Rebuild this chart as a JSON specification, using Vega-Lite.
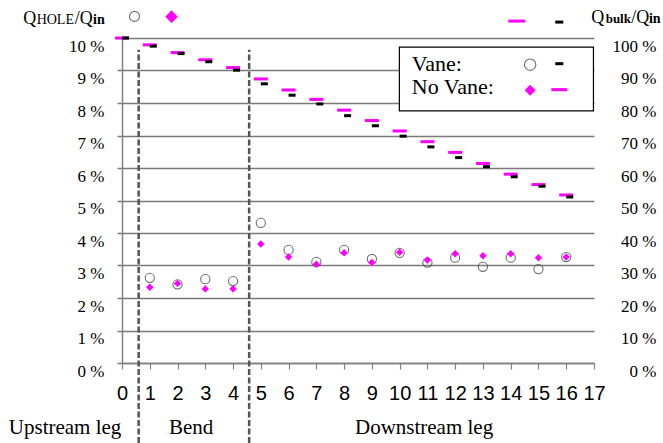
{
  "$schema": "https://vega.github.io/schema/vega-lite/v6.json",
  "width": 472,
  "height": 325,
  "autosize": "none",
  "padding": {"left": 122, "top": 38, "right": 69, "bottom": 80},
  "background": "white",
  "config": {
    "view": {"stroke": null},
    "font": "Liberation Serif, DejaVu Serif, serif",
    "text": {"font": "Liberation Serif, DejaVu Serif, serif"},
    "axis": {"labelColor": "black", "labelFont": "Liberation Serif, DejaVu Serif, serif", "labelFontSize": 17, "labelFlush": false, "labelOverlap": false},
    "axisX": {"grid": false, "tickCount": 17, "domainColor": "#808080", "domainWidth": 1.5, "tickColor": "#808080", "tickWidth": 1.2, "tickSize": 6,
      "labelFont": "Liberation Sans Narrow, Arial Narrow, Liberation Sans, sans-serif", "labelFontSize": 20, "labelPadding": 14},
    "axisY": {"tickCount": 10}
  },
  "datasets": {
    "hole": [
      {"pos": 1, "vane": 2.62, "novane": 2.33},
      {"pos": 2, "vane": 2.42, "novane": 2.45},
      {"pos": 3, "vane": 2.58, "novane": 2.28},
      {"pos": 4, "vane": 2.52, "novane": 2.28},
      {"pos": 5, "vane": 4.31, "novane": 3.66},
      {"pos": 6, "vane": 3.48, "novane": 3.26},
      {"pos": 7, "vane": 3.11, "novane": 3.04},
      {"pos": 8, "vane": 3.48, "novane": 3.39},
      {"pos": 9, "vane": 3.20, "novane": 3.09},
      {"pos": 10, "vane": 3.39, "novane": 3.41},
      {"pos": 11, "vane": 3.09, "novane": 3.17},
      {"pos": 12, "vane": 3.24, "novane": 3.36},
      {"pos": 13, "vane": 2.96, "novane": 3.30},
      {"pos": 14, "vane": 3.24, "novane": 3.36},
      {"pos": 15, "vane": 2.89, "novane": 3.24},
      {"pos": 16, "vane": 3.26, "novane": 3.26}
    ],
    "bulk": [
      {"pos": 0, "vane": 100, "novane": 100},
      {"pos": 1, "vane": 97.5, "novane": 97.9},
      {"pos": 2, "vane": 95.2, "novane": 95.5},
      {"pos": 3, "vane": 92.7, "novane": 93.3},
      {"pos": 4, "vane": 90.1, "novane": 90.9},
      {"pos": 5, "vane": 85.9, "novane": 87.4},
      {"pos": 6, "vane": 82.4, "novane": 84.0},
      {"pos": 7, "vane": 79.7, "novane": 81.1},
      {"pos": 8, "vane": 76.1, "novane": 77.8},
      {"pos": 9, "vane": 73.0, "novane": 74.6},
      {"pos": 10, "vane": 69.8, "novane": 71.4},
      {"pos": 11, "vane": 66.5, "novane": 68.1},
      {"pos": 12, "vane": 63.2, "novane": 64.8},
      {"pos": 13, "vane": 60.4, "novane": 61.4},
      {"pos": 14, "vane": 57.3, "novane": 58.1},
      {"pos": 15, "vane": 54.4, "novane": 54.9},
      {"pos": 16, "vane": 51.1, "novane": 51.7}
    ],
    "sections": [
      {"edge": 0.6},
      {"edge": 4.58}
    ]
  },
  "data": {"values": [{}]},
  "resolve": {"scale": {"y": "independent"}},
  "layer": [
    {
      "layer": [
        {
          "data": {"name": "hole"},
          "mark": {"type": "point", "shape": "circle", "filled": false, "stroke": "#333333", "strokeWidth": 1.1, "size": 85},
          "encoding": {
            "x": {"field": "pos", "type": "quantitative", "title": null,
              "scale": {"domain": [0, 17], "nice": false, "zero": false},
              "axis": {"format": "d"}},
            "y": {"field": "vane", "type": "quantitative", "title": null,
              "scale": {"domain": [0, 10], "nice": false},
              "axis": {"labelExpr": "datum.value + ' %'",
                "grid": true, "gridColor": "#7a7a7a", "gridWidth": 1.5,
                "domainColor": "#808080", "domainWidth": 1.5, "tickColor": "#7a7a7a", "tickWidth": 1.5, "tickSize": 5,
                "labelPadding": 13, "labelOffset": 8}}
          }
        },
        {
          "data": {"name": "hole"},
          "mark": {"type": "point", "shape": "diamond", "filled": true, "color": "#ff00ff", "opacity": 1, "size": 55},
          "encoding": {
            "x": {"field": "pos", "type": "quantitative", "title": null},
            "y": {"field": "novane", "type": "quantitative", "title": null}
          }
        },
        {
          "data": {"name": "sections"},
          "mark": {"type": "rule", "color": "#555555", "strokeWidth": 2.5, "strokeDash": [6, 2.5]},
          "encoding": {
            "x": {"field": "edge", "type": "quantitative", "title": null},
            "y": {"datum": -2.46, "title": null},
            "y2": {"datum": 9.64}
          }
        },
        {
          "mark": {"type": "rect", "fill": "white", "stroke": "black", "strokeWidth": 1.2},
          "encoding": {
            "x": {"datum": 9.99, "title": null}, "x2": {"datum": 16.98},
            "y": {"datum": 9.72, "title": null}, "y2": {"datum": 7.76}
          }
        },
        {
          "mark": {"type": "text", "text": "Vane:", "font": "Liberation Serif, DejaVu Serif, serif", "fontSize": 22, "align": "left", "baseline": "alphabetic"},
          "encoding": {"x": {"datum": 10.44, "title": null}, "y": {"datum": 9.0, "title": null}}
        },
        {
          "mark": {"type": "text", "text": "No Vane:", "font": "Liberation Serif, DejaVu Serif, serif", "fontSize": 22, "align": "left", "baseline": "alphabetic"},
          "encoding": {"x": {"datum": 10.44, "title": null}, "y": {"datum": 8.285, "title": null}}
        },
        {
          "mark": {"type": "point", "shape": "circle", "filled": false, "stroke": "#333333", "strokeWidth": 1.1, "size": 130},
          "encoding": {"x": {"datum": 14.7, "title": null}, "y": {"datum": 9.18, "title": null}}
        },
        {
          "mark": {"type": "point", "shape": "diamond", "filled": true, "color": "#ff00ff", "opacity": 1, "size": 120},
          "encoding": {"x": {"datum": 14.7, "title": null}, "y": {"datum": 8.39, "title": null}}
        },
        {
          "mark": {"type": "tick", "orient": "horizontal", "color": "#ff00ff", "size": 16, "thickness": 3, "opacity": 1},
          "encoding": {"x": {"datum": 15.75, "title": null}, "y": {"datum": 8.41, "title": null}}
        },
        {
          "mark": {"type": "tick", "orient": "horizontal", "color": "black", "size": 8, "thickness": 3, "opacity": 1},
          "encoding": {"x": {"datum": 15.75, "title": null}, "y": {"datum": 9.21, "title": null}}
        },
        {
          "mark": {"type": "text", "text": "Q", "font": "Liberation Serif, DejaVu Serif, serif", "fontSize": 18, "align": "left", "baseline": "alphabetic"},
          "encoding": {"x": {"datum": -3.557, "title": null}, "y": {"datum": 10.44, "title": null}}
        },
        {
          "mark": {"type": "text", "text": "HOLE", "font": "Liberation Serif, DejaVu Serif, serif", "fontSize": 14, "align": "left", "baseline": "alphabetic"},
          "encoding": {"x": {"datum": -3.074, "title": null}, "y": {"datum": 10.43, "title": null}}
        },
        {
          "mark": {"type": "text", "text": "/Q", "font": "Liberation Serif, DejaVu Serif, serif", "fontSize": 18, "align": "left", "baseline": "alphabetic"},
          "encoding": {"x": {"datum": -1.70, "title": null}, "y": {"datum": 10.44, "title": null}}
        },
        {
          "mark": {"type": "text", "text": "in", "font": "Liberation Serif, DejaVu Serif, serif", "fontSize": 14, "fontWeight": "bold", "align": "left", "baseline": "alphabetic"},
          "encoding": {"x": {"datum": -1.045, "title": null}, "y": {"datum": 10.43, "title": null}}
        },
        {
          "mark": {"type": "point", "shape": "circle", "filled": false, "stroke": "#333333", "strokeWidth": 1.1, "size": 100},
          "encoding": {"x": {"datum": 0.45, "title": null}, "y": {"datum": 10.665, "title": null}}
        },
        {
          "mark": {"type": "point", "shape": "diamond", "filled": true, "color": "#ff00ff", "opacity": 1, "size": 160},
          "encoding": {"x": {"datum": 1.784, "title": null}, "y": {"datum": 10.656, "title": null}}
        },
        {
          "mark": {"type": "tick", "orient": "horizontal", "color": "#ff00ff", "size": 17, "thickness": 3, "opacity": 1},
          "encoding": {"x": {"datum": 14.22, "title": null}, "y": {"datum": 10.52, "title": null}}
        },
        {
          "mark": {"type": "tick", "orient": "horizontal", "color": "black", "size": 8, "thickness": 3, "opacity": 1},
          "encoding": {"x": {"datum": 15.75, "title": null}, "y": {"datum": 10.49, "title": null}}
        },
        {
          "mark": {"type": "text", "text": "Q", "font": "Liberation Serif, DejaVu Serif, serif", "fontSize": 18, "align": "left", "baseline": "alphabetic"},
          "encoding": {"x": {"datum": 16.9, "title": null}, "y": {"datum": 10.47, "title": null}}
        },
        {
          "mark": {"type": "text", "text": "bulk", "font": "Liberation Serif, DejaVu Serif, serif", "fontSize": 13, "fontWeight": "bold", "align": "left", "baseline": "alphabetic"},
          "encoding": {"x": {"datum": 17.42, "title": null}, "y": {"datum": 10.45, "title": null}}
        },
        {
          "mark": {"type": "text", "text": "/Q", "font": "Liberation Serif, DejaVu Serif, serif", "fontSize": 18, "align": "left", "baseline": "alphabetic"},
          "encoding": {"x": {"datum": 18.34, "title": null}, "y": {"datum": 10.47, "title": null}}
        },
        {
          "mark": {"type": "text", "text": "in", "font": "Liberation Serif, DejaVu Serif, serif", "fontSize": 14, "fontWeight": "bold", "align": "left", "baseline": "alphabetic"},
          "encoding": {"x": {"datum": 18.98, "title": null}, "y": {"datum": 10.45, "title": null}}
        },
        {
          "mark": {"type": "text", "text": "Upstream leg", "font": "Liberation Serif, DejaVu Serif, serif", "fontSize": 21, "align": "center", "baseline": "middle"},
          "encoding": {"x": {"datum": -2.05, "title": null}, "y": {"datum": -2.0, "title": null}}
        },
        {
          "mark": {"type": "text", "text": "Bend", "font": "Liberation Serif, DejaVu Serif, serif", "fontSize": 21, "align": "center", "baseline": "middle"},
          "encoding": {"x": {"datum": 2.49, "title": null}, "y": {"datum": -2.0, "title": null}}
        },
        {
          "mark": {"type": "text", "text": "Downstream leg", "font": "Liberation Serif, DejaVu Serif, serif", "fontSize": 21, "align": "center", "baseline": "middle"},
          "encoding": {"x": {"datum": 10.88, "title": null}, "y": {"datum": -2.0, "title": null}}
        }
      ]
    },
    {
      "layer": [
        {
          "data": {"name": "bulk"},
          "mark": {"type": "tick", "orient": "horizontal", "color": "#ff00ff", "size": 14, "thickness": 3, "opacity": 1},
          "encoding": {
            "x": {"field": "pos", "type": "quantitative", "title": null},
            "y": {"field": "novane", "type": "quantitative", "title": null,
              "scale": {"domain": [0, 100], "nice": false},
              "axis": {"orient": "right", "labelExpr": "datum.value + ' %'",
                "grid": false, "domain": false, "ticks": false, "labelAlign": "right", "labelPadding": 62, "labelOffset": 8}}
          }
        },
        {
          "data": {"name": "bulk"},
          "mark": {"type": "tick", "orient": "horizontal", "color": "black", "size": 7, "thickness": 3, "opacity": 1, "xOffset": 3.5},
          "encoding": {
            "x": {"field": "pos", "type": "quantitative", "title": null},
            "y": {"field": "vane", "type": "quantitative", "title": null,
              "axis": {"orient": "right", "labelExpr": "datum.value + ' %'",
                "grid": false, "domain": false, "ticks": false, "labelAlign": "right", "labelPadding": 62, "labelOffset": 8}}
          }
        }
      ]
    }
  ]
}
